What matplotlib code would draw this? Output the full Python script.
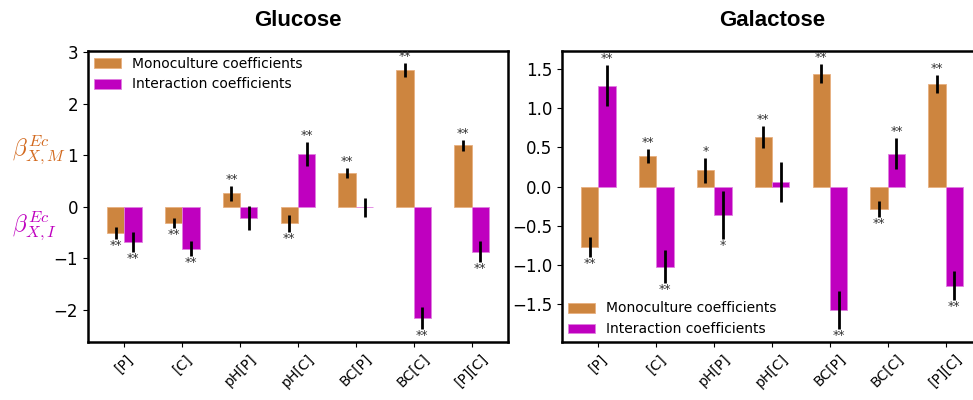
import numpy as np
import matplotlib.pyplot as plt

plt.rcParams['mathtext.fontset'] = 'cm'

labels = ["[P]", "[C]", "pH[P]", "pH[C]", "BC[P]", "BC[C]", "[P][C]"]

# Glucose
glu_mono = [-0.51, -0.32, 0.26, -0.32, 0.66, 2.65, 1.19]
glu_mono_err = [0.11, 0.10, 0.14, 0.16, 0.10, 0.13, 0.11]
glu_int = [-0.68, -0.81, -0.21, 1.02, -0.01, -2.15, -0.87]
glu_int_err = [0.20, 0.15, 0.23, 0.23, 0.18, 0.21, 0.20]
glu_mono_sig = ["**", "**", "**", "**", "**", "**", "**"]
glu_int_sig = ["**", "**", "", "**", "", "**", "**"]

# Galactose
gal_mono = [-0.77, 0.39, 0.21, 0.63, 1.44, -0.28, 1.31]
gal_mono_err = [0.125, 0.09, 0.16, 0.14, 0.12, 0.10, 0.11]
gal_int = [1.29, -1.02, -0.36, 0.06, -1.57, 0.42, -1.26]
gal_int_err = [0.26, 0.21, 0.31, 0.25, 0.24, 0.20, 0.19]
gal_mono_sig = ["**", "**", "*", "**", "**", "**", "**"]
gal_int_sig = ["**", "**", "*", "", "**", "**", "**"]

c_mono = "peru"
c_int = "m"
w = 0.3
x = np.arange(len(labels))


def panel(ax, mono, mono_err, int_, int_err, mono_sig, int_sig, title, loc):
    ax.bar(x - w / 2, mono, w, color=c_mono, edgecolor="#e8b080", linewidth=0.6,
           label="Monoculture coefficients")
    ax.bar(x + w / 2, int_, w, color=c_int, edgecolor="#e080e0", linewidth=0.6,
           label="Interaction coefficients")
    ax.errorbar(x - w / 2, mono, yerr=mono_err, fmt="none", ecolor="k", elinewidth=2)
    ax.errorbar(x + w / 2, int_, yerr=int_err, fmt="none", ecolor="k", elinewidth=2)
    for xs, vals, errs, sigs in [(x - w / 2, mono, mono_err, mono_sig),
                                 (x + w / 2, int_, int_err, int_sig)]:
        for xi, v, e, s in zip(xs, vals, errs, sigs):
            if not s:
                continue
            if v >= 0:
                ax.text(xi, v + e, s, ha="center", va="bottom", fontsize=9, color="#333333")
            else:
                ax.text(xi, v - e, s, ha="center", va="top", fontsize=9, color="#333333")
    ax.set_xticks(x)
    ax.set_xticklabels(labels, rotation=45, fontsize=10)
    ax.tick_params(axis="y", labelsize=12)
    for sp in ax.spines.values():
        sp.set_linewidth(1.8)
    ax.legend(loc=loc, frameon=False, fontsize=10, borderaxespad=0.0)
    ax.set_title(title, fontsize=16, fontweight="bold", family="Liberation Sans", pad=18)


fig = plt.figure(figsize=(9.73, 4.0), dpi=100)
ax1 = fig.add_axes([0.0904, 0.145, 0.4317, 0.7275])
ax2 = fig.add_axes([0.5776, 0.145, 0.4317, 0.7275])

panel(ax1, glu_mono, glu_mono_err, glu_int, glu_int_err, glu_mono_sig, glu_int_sig,
      "Glucose", "upper left")
ax1.set_ylim(-2.62, 3.02)
ax1.set_yticks([-2, -1, 0, 1, 2, 3])

panel(ax2, gal_mono, gal_mono_err, gal_int, gal_int_err, gal_mono_sig, gal_int_sig,
      "Galactose", "lower left")
ax2.set_ylim(-1.98, 1.73)

fig.text(0.012, 0.61, r"$\beta^{Ec}_{X,M}$", color="chocolate", fontsize=17)
fig.text(0.012, 0.42, r"$\beta^{Ec}_{X,I}$", color="m", fontsize=17)

fig.savefig("out.png", dpi=100)
